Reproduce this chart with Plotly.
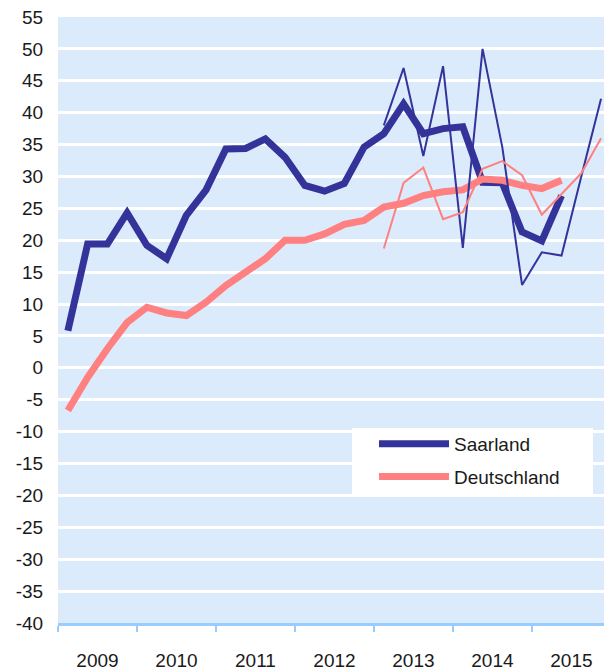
import plotly.graph_objects as go

years = ["2009", "2010", "2011", "2012", "2013", "2014", "2015"]
# quarterly index: 0 = 2009 Q1 ... 27 = 2015 Q4
saar_trend = [5.8, 19.4, 19.4, 24.3, 19.2, 17.1, 23.9, 27.9, 34.3, 34.4, 35.9, 33.0,
              28.6, 27.7, 28.9, 34.6, 36.7, 41.4, 36.7, 37.5, 37.8, 29.1, 29.0, 21.3,
              19.9, 27.0]
de_trend = [-6.7, -1.5, 3.0, 7.1, 9.5, 8.6, 8.2, 10.3, 12.9, 15.0, 17.1, 20.0,
            20.0, 21.0, 22.5, 23.1, 25.2, 25.8, 27.0, 27.6, 27.9, 29.6, 29.4, 28.6,
            28.1, 29.4]
saar_q = [38.0, 47.0, 33.2, 47.3, 18.8, 50.0, 34.6, 13.0, 18.1, 17.6, 30.0, 42.2]
de_q = [18.7, 29.0, 31.4, 23.3, 24.4, 31.2, 32.4, 30.2, 24.0, 27.3, 30.5, 36.0]
q_start = 16  # 2013 Q1
y_ticks = list(range(-40, 56, 5))

BLUE = "#333399"
RED = "#ff8080"

fig = go.Figure()
fig.add_trace(go.Scatter(x=list(range(len(saar_trend))), y=saar_trend, mode="lines",
                         name="Saarland", legendgroup="a",
                         line=dict(color=BLUE, width=7)))
fig.add_trace(go.Scatter(x=list(range(len(de_trend))), y=de_trend, mode="lines",
                         name="Deutschland", legendgroup="b",
                         line=dict(color=RED, width=7)))
fig.add_trace(go.Scatter(x=list(range(q_start, q_start + len(saar_q))), y=saar_q,
                         mode="lines", showlegend=False, line=dict(color=BLUE, width=2)))
fig.add_trace(go.Scatter(x=list(range(q_start, q_start + len(de_q))), y=de_q,
                         mode="lines", showlegend=False, line=dict(color=RED, width=2)))

L, R, T, B = 58, 2, 17, 49
PW, PH = 606 - L - R, 672 - T - B

def px(xp):
    return (xp - L) / PW

def py(yp):
    return (672 - B - yp) / PH

fig.add_shape(type="rect", xref="paper", yref="paper",
              x0=px(352), x1=px(593), y0=py(497), y1=py(428),
              fillcolor="white", line=dict(width=0), layer="above")

fig.update_layout(
    width=606, height=672,
    margin=dict(l=L, r=R, t=T, b=B),
    paper_bgcolor="white", plot_bgcolor="#dcebfc",
    font=dict(family="Liberation Sans, Arial, sans-serif", size=19, color="#1a1a1a"),
    legend=dict(x=px(374), y=py(425), xanchor="left", yanchor="top",
                bgcolor="rgba(0,0,0,0)", borderwidth=0, font=dict(size=19),
                itemwidth=70, tracegroupgap=5),
    showlegend=True,
)
fig.update_xaxes(
    range=[-0.5, 27.15], automargin=False,
    tickmode="array",
    tickvals=[1.5 + 4 * i for i in range(len(years))],
    ticktext=years,
    ticks="outside", ticklen=18, tickcolor="rgba(0,0,0,0)",
    showgrid=False, zeroline=False,
    showline=True, linecolor="#99ccff", linewidth=3,
    minor=dict(tickmode="linear", tick0=-0.5, dtick=4, ticks="outside",
               ticklen=6, tickcolor="#99ccff", tickwidth=2, showgrid=False),
)
fig.update_yaxes(
    range=[-40, 55], automargin=False,
    tickmode="array", tickvals=y_ticks, ticktext=[str(v) for v in y_ticks],
    showgrid=True, gridcolor="white", gridwidth=3,
    zeroline=False,
    ticks="outside", ticklen=10, tickcolor="rgba(0,0,0,0)",
    showline=False,
)

fig.write_html("out.html", config={"displayModeBar": False},
               post_script="document.body.style.margin='0';")
